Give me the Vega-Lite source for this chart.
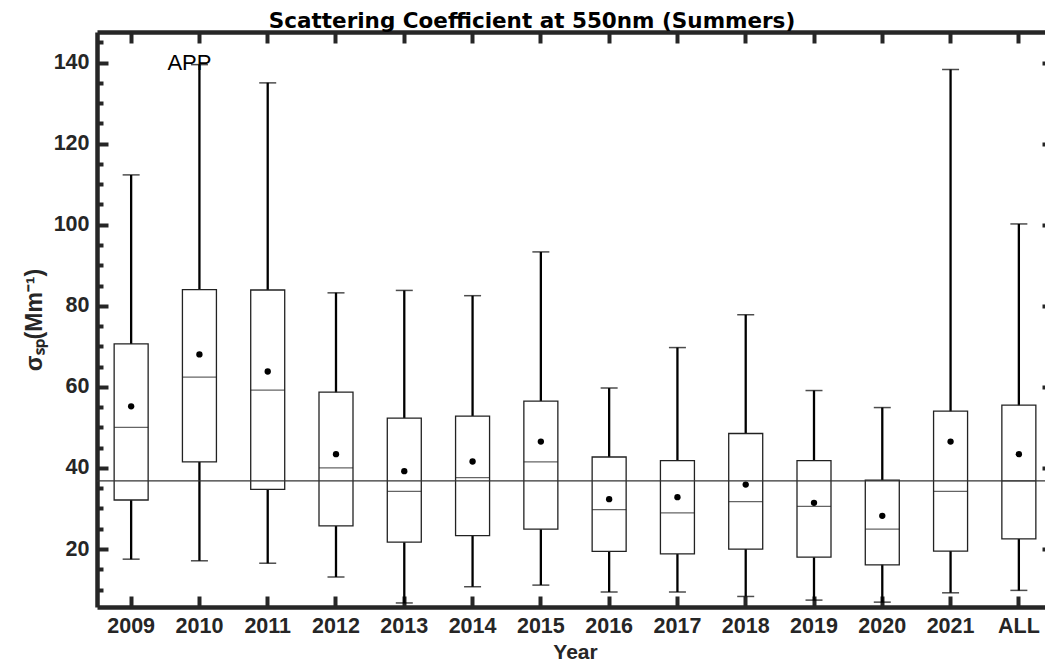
{
  "$schema": "https://vega.github.io/schema/vega-lite/v6.json",
  "autosize": {"type": "none"},
  "width": 956,
  "height": 575,
  "padding": {"left": 97, "top": 32, "right": -8, "bottom": 55},
  "background": "white",
  "config": {"view": {"stroke": null}, "font": "Liberation Sans"},
  "title": {"text": "Scattering Coefficient at 550nm (Summers)", "font": "DejaVu Sans", "fontSize": 21.5, "fontWeight": "bold", "color": "#000000", "anchor": "middle", "dx": -43, "offset": -2},
  "datasets": {
    "stats": [
      {"year": "2009", "low": 17.5, "q1": 32.1, "median": 50.0, "q3": 70.6, "high": 112.3, "mean": 55.2},
      {"year": "2010", "low": 17.1, "q1": 41.5, "median": 62.4, "q3": 84.0, "high": 139.5, "mean": 68.0},
      {"year": "2011", "low": 16.5, "q1": 34.7, "median": 59.2, "q3": 83.9, "high": 135.0, "mean": 63.8},
      {"year": "2012", "low": 13.1, "q1": 25.7, "median": 40.0, "q3": 58.7, "high": 83.2, "mean": 43.4},
      {"year": "2013", "low": 6.7, "q1": 21.7, "median": 34.2, "q3": 52.3, "high": 83.8, "mean": 39.2},
      {"year": "2014", "low": 10.7, "q1": 23.3, "median": 37.6, "q3": 52.8, "high": 82.5, "mean": 41.6},
      {"year": "2015", "low": 11.1, "q1": 24.9, "median": 41.5, "q3": 56.5, "high": 93.3, "mean": 46.5},
      {"year": "2016", "low": 9.4, "q1": 19.4, "median": 29.7, "q3": 42.7, "high": 59.7, "mean": 32.3},
      {"year": "2017", "low": 9.4, "q1": 18.8, "median": 28.9, "q3": 41.8, "high": 69.7, "mean": 32.8},
      {"year": "2018", "low": 8.3, "q1": 20.0, "median": 31.7, "q3": 48.5, "high": 77.8, "mean": 35.9},
      {"year": "2019", "low": 7.4, "q1": 18.0, "median": 30.5, "q3": 41.8, "high": 59.1, "mean": 31.4},
      {"year": "2020", "low": 6.9, "q1": 16.1, "median": 24.9, "q3": 37.0, "high": 54.9, "mean": 28.2},
      {"year": "2021", "low": 9.2, "q1": 19.5, "median": 34.2, "q3": 54.0, "high": 138.3, "mean": 46.5},
      {"year": "ALL", "low": 9.8, "q1": 22.5, "median": 36.8, "q3": 55.5, "high": 100.2, "mean": 43.4}
    ],
    "ref": [{"overall_median": 36.8}],
    "note": [{"year": "2010", "value": 140, "label": "APP"}]
  },
  "layer": [
    {
      "data": {"name": "stats"},
      "mark": {"type": "rule", "color": "#000000", "strokeWidth": 2.3},
      "encoding": {
        "x": {"field": "year", "type": "ordinal", "sort": null,
          "scale": {"domain": ["2009","2010","2011","2012","2013","2014","2015","2016","2017","2018","2019","2020","2021","ALL"], "paddingInner": 0, "paddingOuter": 0},
          "axis": {"orient": "bottom", "tickSize": -11, "tickWidth": 4, "tickColor": "#262626", "domainColor": "#262626", "domainWidth": 4.5,
            "labelFont": "Liberation Sans", "labelFontSize": 21.5, "labelFontWeight": "bold", "labelColor": "#262626", "labelPadding": 19, "labelAngle": 0,
            "title": "Year", "titleFont": "Liberation Sans", "titleFontSize": 21, "titleFontWeight": "bold", "titleColor": "#262626", "titlePadding": 5, "grid": false}},
        "y": {"field": "low", "type": "quantitative",
          "scale": {"domain": [5.7, 147.55], "nice": false, "zero": false},
          "axis": {"orient": "left", "values": [10,15,20,25,30,35,40,45,50,55,60,65,70,75,80,85,90,95,100,105,110,115,120,125,130,135,140,145],
            "labelExpr": "datum.value % 20 === 0 ? datum.label : ''",
            "tickSize": {"condition": {"test": "datum.value % 20 === 0", "value": -11}, "value": -6},
            "tickWidth": 4, "tickColor": "#262626", "domainColor": "#262626", "domainWidth": 4.5,
            "labelFont": "Liberation Sans", "labelFontSize": 21.5, "labelFontWeight": "bold", "labelColor": "#262626", "labelPadding": 19,
            "title": "σₛₚ(Mm⁻¹)", "titleFont": "Liberation Sans", "titleFontSize": 23, "titleFontWeight": "bold", "titleColor": "#262626", "titlePadding": 7, "grid": false}},
        "y2": {"field": "high"}
      }
    },
    {
      "data": {"name": "stats"},
      "mark": {"type": "tick", "color": "#000000", "size": 17, "thickness": 1.5},
      "encoding": {
        "x": {"field": "year", "type": "ordinal", "sort": null, "axis": null,
          "scale": {"domain": ["2009","2010","2011","2012","2013","2014","2015","2016","2017","2018","2019","2020","2021","ALL"], "paddingInner": 0, "paddingOuter": 0}},
        "y": {"field": "low", "type": "quantitative", "axis": null, "scale": {"domain": [5.7, 147.55], "nice": false, "zero": false}}
      }
    },
    {
      "data": {"name": "stats"},
      "mark": {"type": "tick", "color": "#000000", "size": 17, "thickness": 1.5},
      "encoding": {
        "x": {"field": "year", "type": "ordinal", "sort": null, "axis": null,
          "scale": {"domain": ["2009","2010","2011","2012","2013","2014","2015","2016","2017","2018","2019","2020","2021","ALL"], "paddingInner": 0, "paddingOuter": 0}},
        "y": {"field": "high", "type": "quantitative", "axis": null, "scale": {"domain": [5.7, 147.55], "nice": false, "zero": false}}
      }
    },
    {
      "data": {"name": "stats"},
      "mark": {"type": "bar", "fill": "#ffffff", "stroke": "#222222", "strokeWidth": 1.3, "size": 34},
      "encoding": {
        "x": {"field": "year", "type": "ordinal", "sort": null,
          "scale": {"domain": ["2009","2010","2011","2012","2013","2014","2015","2016","2017","2018","2019","2020","2021","ALL"], "paddingInner": 0, "paddingOuter": 0},
          "axis": {"orient": "top", "tickSize": -11, "tickWidth": 4, "tickColor": "#262626", "domainColor": "#262626", "domainWidth": 4.5, "labels": false, "title": null, "grid": false}},
        "y": {"field": "q1", "type": "quantitative",
          "scale": {"domain": [5.7, 147.55], "nice": false, "zero": false},
          "axis": {"orient": "right", "values": [10,15,20,25,30,35,40,45,50,55,60,65,70,75,80,85,90,95,100,105,110,115,120,125,130,135,140,145],
            "tickSize": {"condition": {"test": "datum.value % 20 === 0", "value": -11}, "value": -6},
            "tickWidth": 4, "tickColor": "#262626", "domainColor": "#262626", "domainWidth": 4.5, "labels": false, "title": null, "grid": false}},
        "y2": {"field": "q3"}
      }
    },
    {
      "data": {"name": "stats"},
      "mark": {"type": "tick", "color": "#222222", "size": 34, "thickness": 1.2},
      "encoding": {
        "x": {"field": "year", "type": "ordinal", "sort": null, "axis": null,
          "scale": {"domain": ["2009","2010","2011","2012","2013","2014","2015","2016","2017","2018","2019","2020","2021","ALL"], "paddingInner": 0, "paddingOuter": 0}},
        "y": {"field": "median", "type": "quantitative", "axis": null, "scale": {"domain": [5.7, 147.55], "nice": false, "zero": false}}
      }
    },
    {
      "data": {"name": "ref"},
      "mark": {"type": "rule", "color": "#333333", "strokeWidth": 1.2},
      "encoding": {
        "y": {"field": "overall_median", "type": "quantitative", "axis": null, "scale": {"domain": [5.7, 147.55], "nice": false, "zero": false}}
      }
    },
    {
      "data": {"name": "stats"},
      "mark": {"type": "point", "filled": true, "color": "#000000", "size": 40, "opacity": 1},
      "encoding": {
        "x": {"field": "year", "type": "ordinal", "sort": null, "axis": null,
          "scale": {"domain": ["2009","2010","2011","2012","2013","2014","2015","2016","2017","2018","2019","2020","2021","ALL"], "paddingInner": 0, "paddingOuter": 0}},
        "y": {"field": "mean", "type": "quantitative", "axis": null, "scale": {"domain": [5.7, 147.55], "nice": false, "zero": false}}
      }
    },
    {
      "data": {"name": "note"},
      "mark": {"type": "text", "font": "Liberation Sans", "fontSize": 22, "color": "#000000", "baseline": "middle", "align": "center", "dx": -10},
      "encoding": {
        "x": {"field": "year", "type": "ordinal", "sort": null, "axis": null,
          "scale": {"domain": ["2009","2010","2011","2012","2013","2014","2015","2016","2017","2018","2019","2020","2021","ALL"], "paddingInner": 0, "paddingOuter": 0}},
        "y": {"field": "value", "type": "quantitative", "axis": null, "scale": {"domain": [5.7, 147.55], "nice": false, "zero": false}},
        "text": {"field": "label"}
      }
    }
  ],
  "resolve": {"axis": {"x": "independent", "y": "independent"}}
}
